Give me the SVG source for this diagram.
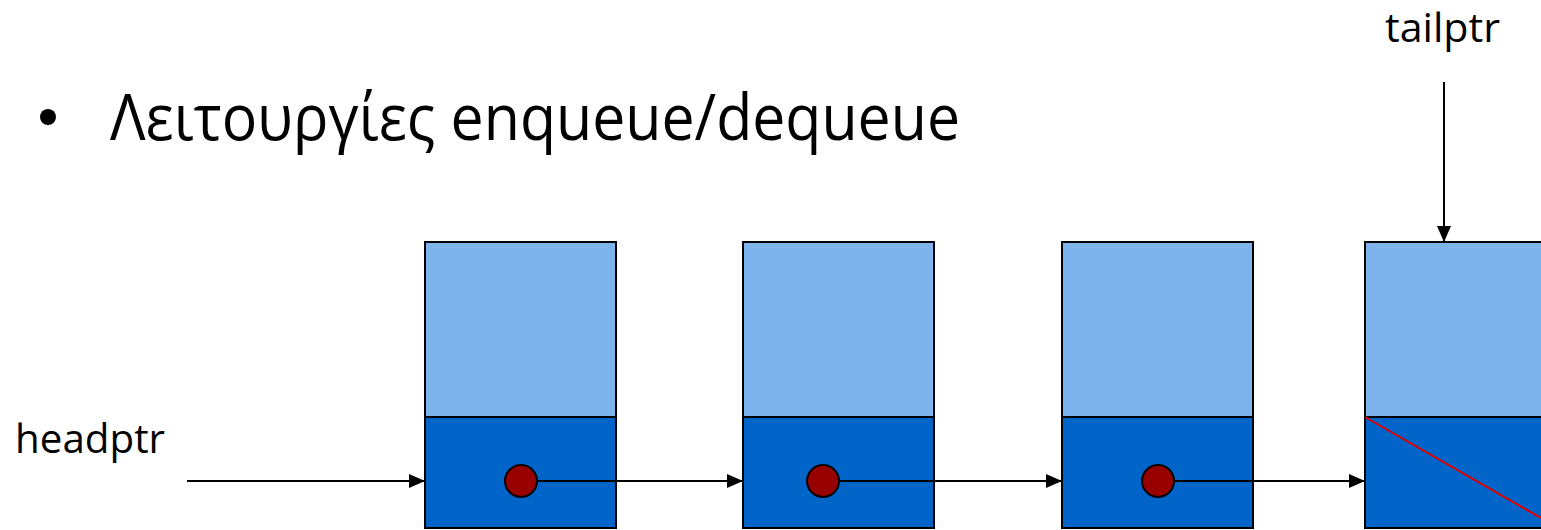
<svg xmlns="http://www.w3.org/2000/svg" width="1541" height="530" viewBox="0 0 1541 530">
  <style>
    .txt { font-family: "Open Sans", "Liberation Sans", sans-serif; fill: #000; }
    .data { fill: #7eb4ec; stroke: #000; stroke-width: 2; }
    .link { fill: #0064c8; stroke: #000; stroke-width: 2; }
    .dot { fill: #990000; stroke: #000; stroke-width: 2; }
    .edge { stroke: #000; stroke-width: 2; fill: none; marker-end: url(#arrow); }
    .nil { stroke: #e00000; stroke-width: 2; }
  </style>
  <defs>
    <marker id="arrow" viewBox="0 0 16 14" refX="16" refY="7" markerWidth="16" markerHeight="14" markerUnits="userSpaceOnUse" orient="auto">
      <path d="M0,0 L16,7 L0,14 z" fill="#000"/>
    </marker>
  </defs>

  <rect width="1541" height="530" fill="#fff"/>

  <!-- title bullet -->
  <g id="title">
    <circle cx="48" cy="117" r="8" fill="#000"/>
    <text class="txt" x="110" y="140" font-size="64" textLength="850" lengthAdjust="spacingAndGlyphs">Λειτουργίες enqueue/dequeue</text>
  </g>

  <g id="headptr">
    <text class="txt" x="15" y="453" font-size="40" textLength="150" lengthAdjust="spacingAndGlyphs">headptr</text>
  </g>
  <g id="tailptr">
    <text class="txt" x="1385" y="42" font-size="40" textLength="115" lengthAdjust="spacingAndGlyphs">tailptr</text>
  </g>

  <!-- list nodes -->
  <g id="node1">
    <rect class="data" x="425" y="242" width="191" height="175"/>
    <rect class="link" x="425" y="417" width="191" height="111"/>
    <circle class="dot" cx="521" cy="481" r="16"/>
  </g>
  <g id="node2">
    <rect class="data" x="743" y="242" width="191" height="175"/>
    <rect class="link" x="743" y="417" width="191" height="111"/>
    <circle class="dot" cx="823" cy="481" r="16"/>
  </g>
  <g id="node3">
    <rect class="data" x="1062" y="242" width="191" height="175"/>
    <rect class="link" x="1062" y="417" width="191" height="111"/>
    <circle class="dot" cx="1158" cy="481" r="16"/>
  </g>
  <g id="node4">
    <rect class="data" x="1365" y="242" width="191" height="175"/>
    <rect class="link" x="1365" y="417" width="191" height="111"/>
    <line class="nil" x1="1365" y1="417" x2="1541" y2="518"/>
  </g>

  <!-- pointers -->
  <g id="connectors">
    <line class="edge" x1="187" y1="481" x2="425" y2="481"/>
    <line class="edge" x1="537" y1="481" x2="743" y2="481"/>
    <line class="edge" x1="839" y1="481" x2="1062" y2="481"/>
    <line class="edge" x1="1174" y1="481" x2="1365" y2="481"/>
    <line class="edge" x1="1444" y1="82" x2="1444" y2="242"/>
  </g>
</svg>
